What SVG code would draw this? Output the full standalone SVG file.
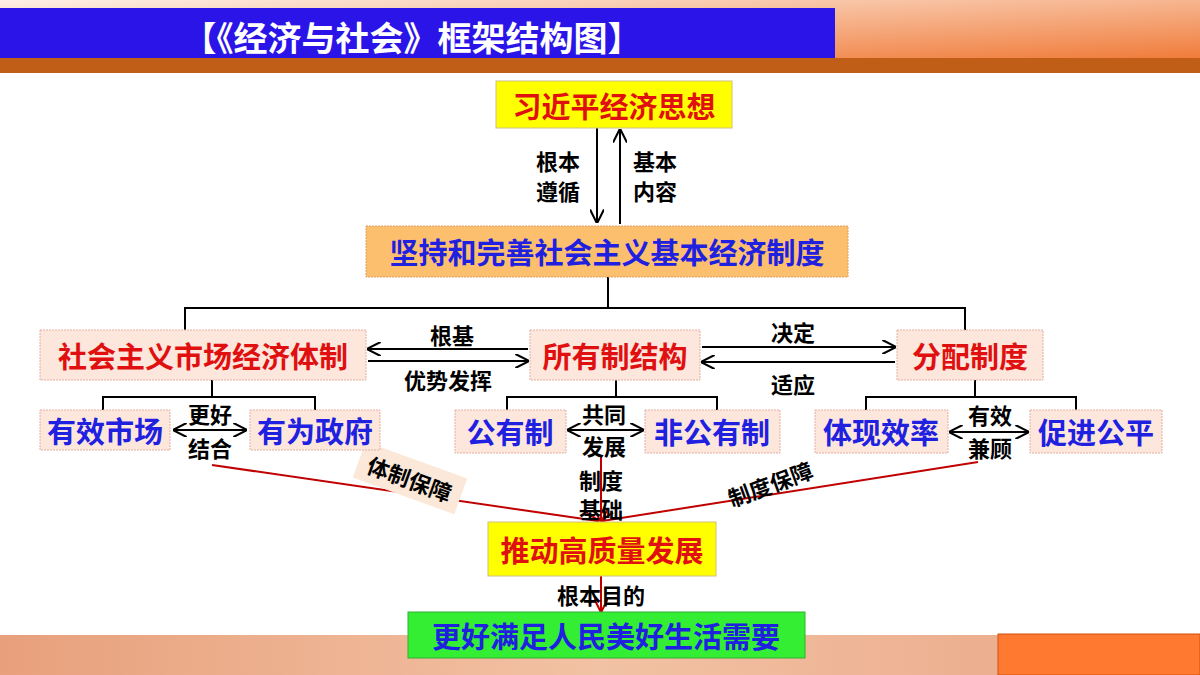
<svg xmlns="http://www.w3.org/2000/svg" width="1200" height="675" viewBox="0 0 1200 675">
<defs>
<linearGradient id="tr" x1="0" y1="0" x2="1" y2="1"><stop offset="0" stop-color="#fdf0e6"/><stop offset="1" stop-color="#f07a38"/></linearGradient>
<linearGradient id="bt" x1="0" y1="0" x2="1" y2="0"><stop offset="0" stop-color="#e8a07c"/><stop offset="0.5" stop-color="#f2c2a4"/><stop offset="1" stop-color="#e9a584"/></linearGradient>
<marker id="ab" viewBox="0 0 10 10" refX="9" refY="5" markerWidth="7" markerHeight="7" orient="auto-start-reverse"><path d="M0,0 L10,5 L0,10" fill="none" stroke="#000" stroke-width="1.5"/></marker>
<marker id="ar" viewBox="0 0 10 10" refX="9" refY="5" markerWidth="7" markerHeight="7" orient="auto"><path d="M0,0 L10,5 L0,10" fill="none" stroke="#c00000" stroke-width="1.5"/></marker>
<style>
text{font-family:"Noto Sans CJK SC","Noto Sans",sans-serif;font-weight:bold;text-anchor:middle;dominant-baseline:central}
.lb{font-size:22px;fill:#000}
.bl{font-size:29px;fill:#2020e0}
.rd{font-size:29px;fill:#e01010}
.pk{fill:#fde6dc;stroke:#e0b0a0;stroke-dasharray:2 1}
.k{stroke:#000;stroke-width:2;fill:none}
.r{stroke:#c00000;stroke-width:2;fill:none}
</style>
</defs>
<rect width="1200" height="675" fill="#fff"/>
<rect x="0" y="0" width="1200" height="60" fill="url(#tr)"/>
<rect x="0" y="58" width="1200" height="15" fill="#c05e18"/>
<rect x="0" y="8" width="835" height="50" fill="#2a14e8"/>
<text x="412" y="36" style="font-size:34px;fill:#fff">【《经济与社会》框架结构图】</text>
<rect x="0" y="635" width="1200" height="40" fill="url(#bt)"/>
<rect x="998" y="634" width="202" height="41" fill="#ff7a30" stroke="#d05010"/>

<g id="connectors">
<line class="k" x1="597" y1="128" x2="597" y2="222" marker-end="url(#ab)"/>
<line class="k" x1="620" y1="224" x2="620" y2="130" marker-end="url(#ab)"/>
<polyline class="k" points="608,277 608,308"/>
<polyline class="k" points="185,330 185,308 965,308 965,330"/>
<line class="k" x1="528" y1="349" x2="368" y2="349" marker-end="url(#ab)"/>
<line class="k" x1="368" y1="361" x2="528" y2="361" marker-end="url(#ab)"/>
<line class="k" x1="702" y1="347" x2="895" y2="347" marker-end="url(#ab)"/>
<line class="k" x1="895" y1="362" x2="702" y2="362" marker-end="url(#ab)"/>
<polyline class="k" points="212,380 212,397"/><polyline class="k" points="103,410 103,397 315,397 315,410"/>
<polyline class="k" points="616,380 616,397"/><polyline class="k" points="507,410 507,397 717,397 717,410"/>
<polyline class="k" points="975,380 975,397"/><polyline class="k" points="866,410 866,397 1076,397 1076,410"/>
<line class="k" x1="174" y1="430" x2="246" y2="430" marker-start="url(#ab)" marker-end="url(#ab)"/>
<line class="k" x1="568" y1="430" x2="643" y2="430" marker-start="url(#ab)" marker-end="url(#ab)"/>
<line class="k" x1="950" y1="432" x2="1028" y2="432" marker-start="url(#ab)" marker-end="url(#ab)"/>
<line class="r" x1="212" y1="465" x2="598" y2="521" marker-end="url(#ar)"/>
<line class="r" x1="978" y1="462" x2="602" y2="521" marker-end="url(#ar)"/>
<line class="r" x1="601" y1="455" x2="601" y2="521" marker-end="url(#ar)"/>
<line class="r" x1="601" y1="576" x2="601" y2="611" marker-end="url(#ar)"/>
</g>

<g id="labels">
<text class="lb" x="558" y="160">根本</text><text class="lb" x="558" y="190">遵循</text>
<text class="lb" x="655" y="160">基本</text><text class="lb" x="655" y="190">内容</text>
<text class="lb" x="452" y="334">根基</text><text class="lb" x="448" y="379">优势发挥</text>
<text class="lb" x="793" y="331">决定</text><text class="lb" x="793" y="383">适应</text>
<text class="lb" x="210" y="413">更好</text><text class="lb" x="210" y="447">结合</text>
<text class="lb" x="604" y="413">共同</text><text class="lb" x="604" y="445">发展</text>
<text class="lb" x="990" y="414">有效</text><text class="lb" x="990" y="447">兼顾</text>
<text class="lb" x="601" y="479">制度</text><text class="lb" x="601" y="508">基础</text>
<g transform="translate(410,478) rotate(20)"><rect x="-54" y="-19" width="108" height="38" fill="#fbe8d8"/><text class="lb" x="0" y="0">体制保障</text></g>
<text class="lb" transform="translate(770,483) rotate(-20)">制度保障</text>
<text class="lb" x="601" y="594">根本目的</text>
</g>

<g id="n1"><rect x="496" y="81" width="236" height="47" fill="#ffff00" stroke="#d0c080"/><text class="rd" x="614" y="105">习近平经济思想</text></g>
<g id="n2"><rect x="366" y="226" width="482" height="51" fill="#fbbf6e" stroke="#e0a060" stroke-dasharray="2 1"/><text class="bl" x="607" y="251">坚持和完善社会主义基本经济制度</text></g>
<g id="n3"><rect class="pk" x="40" y="330" width="326" height="50"/><text class="rd" x="203" y="355">社会主义市场经济体制</text></g>
<g id="n4"><rect class="pk" x="530" y="330" width="170" height="50"/><text class="rd" x="615" y="355">所有制结构</text></g>
<g id="n5"><rect class="pk" x="897" y="330" width="146" height="50"/><text class="rd" x="970" y="355">分配制度</text></g>
<g id="n6"><rect class="pk" x="40" y="410" width="130" height="40"/><text class="bl" x="105" y="430">有效市场</text></g>
<g id="n7"><rect class="pk" x="250" y="410" width="130" height="40"/><text class="bl" x="315" y="430">有为政府</text></g>
<g id="n8"><rect class="pk" x="455" y="410" width="111" height="43"/><text class="bl" x="510" y="431">公有制</text></g>
<g id="n9"><rect class="pk" x="645" y="410" width="135" height="43"/><text class="bl" x="712" y="431">非公有制</text></g>
<g id="n10"><rect class="pk" x="815" y="410" width="133" height="43"/><text class="bl" x="881" y="431">体现效率</text></g>
<g id="n11"><rect class="pk" x="1030" y="410" width="132" height="43"/><text class="bl" x="1096" y="431">促进公平</text></g>
<g id="n12"><rect x="488" y="522" width="228" height="54" fill="#ffff00" stroke="#d0c080"/><text class="rd" x="602" y="549">推动高质量发展</text></g>
<g id="n13"><rect x="408" y="612" width="397" height="46" fill="#33ee33" stroke="#30b030"/><text class="bl" x="606" y="635">更好满足人民美好生活需要</text></g>
</svg>
